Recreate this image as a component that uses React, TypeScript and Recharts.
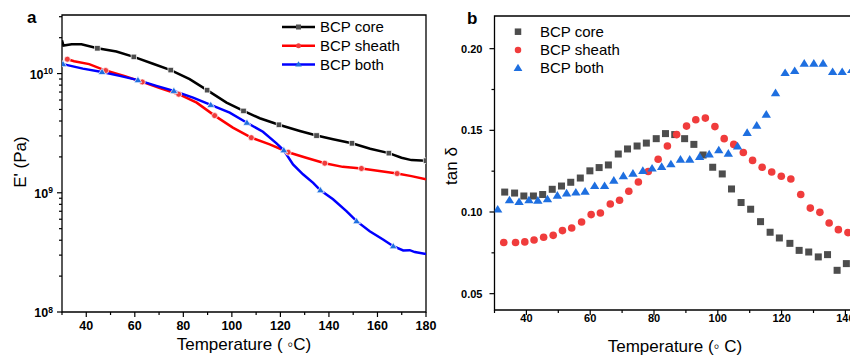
import React from 'react';
import { ComposedChart, Line, Scatter, XAxis, YAxis, ReferenceArea } from 'recharts';

const seriesNames = ['BCP core', 'BCP sheath', 'BCP both'];

// (a) storage modulus E' (Pa) against temperature (°C)
const coreTempA = [30, 30.6, 34, 38, 44.6, 52.4, 59.6, 67.5, 74.8, 82.6, 89.8, 97.8, 104.8, 111.5, 119.4, 128, 134.9, 141.7, 149.5, 157, 164.7, 169.9, 174, 180];
const coreModA = [1.9e10, 1.72e10, 1.76e10, 1.76e10, 1.63e10, 1.53e10, 1.38e10, 1.21e10, 1.07e10, 8.98e9, 7.26e9, 5.71e9, 4.86e9, 4.22e9, 3.72e9, 3.3e9, 3.02e9, 2.81e9, 2.6e9, 2.34e9, 2.15e9, 1.97e9, 1.88e9, 1.86e9];
const coreMarksA = [4, 6, 8, 10, 12, 14, 16, 18, 20, 23];

const sheathTempA = [32.2, 35, 41.2, 48, 55.6, 63.1, 70.6, 78.1, 85.5, 92.9, 100.4, 108, 115.6, 123.2, 130.6, 138.3, 145.7, 153.4, 160.8, 168.1, 174, 180];
const sheathModA = [1.32e10, 1.27e10, 1.2e10, 1.06e10, 9.57e9, 8.51e9, 7.53e9, 6.71e9, 5.7e9, 4.44e9, 3.52e9, 2.9e9, 2.55e9, 2.19e9, 1.97e9, 1.77e9, 1.65e9, 1.6e9, 1.52e9, 1.45e9, 1.38e9, 1.3e9];
const sheathMarksA = [0, 3, 5, 7, 9, 11, 13, 15, 17, 19];

const bothTempA = [30.4, 38.6, 46.5, 53.8, 61.3, 68.9, 76.1, 84, 91.3, 99.1, 106.2, 112.8, 118.4, 121.4, 125.2, 129.3, 133.5, 136.5, 141.7, 147.2, 151.4, 156.8, 162.3, 166.5, 170.6, 173.3, 175.4, 180];
const bothModA = [1.2e10, 1.1e10, 1.03e10, 9.57e9, 8.81e9, 7.89e9, 7.16e9, 6.28e9, 5.46e9, 4.7e9, 3.87e9, 3.25e9, 2.6e9, 2.27e9, 1.73e9, 1.43e9, 1.21e9, 1.05e9, 8.81e8, 7.02e8, 5.78e8, 4.76e8, 4.06e8, 3.56e8, 3.28e8, 3.3e8, 3.18e8, 3.07e8];
const bothMarksA = [0, 2, 4, 6, 8, 10, 13, 17, 20, 23];

// (b) tan delta against temperature (°C)
const coreTempB = [33.2, 36.3, 39.2, 42.2, 45.1, 48.1, 51, 53.9, 56.9, 59.9, 62.8, 65.7, 68.8, 71.7, 74.7, 77.6, 80.7, 83.6, 86.5, 89.6, 92.5, 95.4, 98.4, 101.4, 104.3, 107.3, 110.3, 113.4, 116.4, 119.3, 122.6, 125.5, 128.5, 131.5, 134.4, 137.4, 140.3];
const coreTanB = [0.1122, 0.1116, 0.1098, 0.1098, 0.1107, 0.1139, 0.1159, 0.1182, 0.1208, 0.1252, 0.1272, 0.1288, 0.1355, 0.1386, 0.1404, 0.1422, 0.1449, 0.148, 0.1474, 0.1449, 0.1414, 0.1349, 0.1274, 0.1233, 0.1141, 0.1058, 0.1017, 0.0941, 0.0876, 0.0841, 0.0808, 0.0765, 0.0755, 0.0725, 0.0739, 0.0643, 0.0684];

const sheathTempB = [32.9, 36.6, 39.5, 42.4, 45.4, 48.4, 51.3, 54.2, 57.3, 60.3, 63.2, 66.3, 69.2, 72.1, 75.1, 78.2, 81.3, 84.2, 87.1, 90.2, 93.1, 96.1, 99.1, 102, 105, 108, 110.9, 113.9, 116.9, 119.9, 122.9, 126, 129, 132, 134.9, 137.8, 140.8];
const sheathTanB = [0.0813, 0.0813, 0.0817, 0.0829, 0.0845, 0.0857, 0.0886, 0.0902, 0.0939, 0.0984, 0.0994, 0.1049, 0.1072, 0.1127, 0.1184, 0.1248, 0.1323, 0.1404, 0.1474, 0.1526, 0.1565, 0.1575, 0.1523, 0.1449, 0.1414, 0.1364, 0.1316, 0.1274, 0.1245, 0.1219, 0.1202, 0.1107, 0.1024, 0.0998, 0.0933, 0.0892, 0.0874];

const bothTempB = [31, 34.7, 37.7, 40.8, 43.6, 46.6, 49.7, 52.6, 55.5, 58.4, 61.4, 64.5, 67.4, 70.4, 73.4, 76.5, 79.4, 82.4, 85.3, 88.3, 91.2, 94.3, 97.3, 100.3, 103.3, 106.2, 109.2, 112.2, 115.2, 118.1, 121.1, 124.1, 127.1, 130.1, 133, 136, 139, 142];
const bothTanB = [0.1015, 0.1072, 0.1061, 0.1072, 0.107, 0.1078, 0.11, 0.1114, 0.1119, 0.1125, 0.1159, 0.1159, 0.1192, 0.122, 0.1235, 0.1252, 0.1266, 0.1276, 0.1292, 0.1321, 0.1321, 0.1337, 0.1353, 0.1378, 0.1357, 0.1402, 0.1484, 0.1529, 0.1596, 0.1728, 0.1851, 0.1863, 0.1908, 0.1908, 0.1908, 0.1857, 0.1857, 0.187];

// axis ticks
const tempTicks = [30, 40, 50, 60, 70, 80, 90, 100, 110, 120, 130, 140, 150, 160, 170, 180];
const decades = [1e8, 1e9, 1e10];
const modTicks = decades.flatMap(d => [1, 2, 3, 4, 5, 6, 7, 8, 9].map(m => m * d)).filter(v => v <= 3.1e10);
const tanTicks = [0.05, 0.075, 0.1, 0.125, 0.15, 0.175, 0.2];

const FONT = '"Liberation Sans", Arial, Helvetica, sans-serif';
const LINE_COLORS = ['#000000', '#ff0000', '#0000ff'];
const MARK_COLORS = ['#4d4d4d', '#f03c3c', '#1e6fe0'];

const zip = (ts: number[], vs: number[]) => ts.map((t, i) => ({ t, v: vs[i] }));

// marker shapes, shared by plot and legends
const Marker = ({ kind, cx, cy, s, gap = 0 }: { kind: number; cx: number; cy: number; s: number; gap?: number }) => {
  const stroke = gap ? '#fff' : 'none';
  if (kind === 0)
    return <rect x={cx - s / 2} y={cy - s / 2} width={s} height={s} fill={MARK_COLORS[0]} stroke={stroke} strokeWidth={gap} />;
  if (kind === 1) return <circle cx={cx} cy={cy} r={s / 2} fill={MARK_COLORS[1]} stroke={stroke} strokeWidth={gap} />;
  const h = s * 0.9;
  return (
    <polygon
      points={`${cx},${cy - h * 0.6} ${cx + s * 0.55},${cy + h * 0.4} ${cx - s * 0.55},${cy + h * 0.4}`}
      fill={MARK_COLORS[2]}
      stroke={stroke}
      strokeWidth={gap}
    />
  );
};

// only every few points of each E' curve carries a symbol
const markedDot = (kind: number, marks: number[], s: number) => (p: any) =>
  marks.includes(p.index) ? (
    <g key={`m-${kind}-${p.index}`}>
      <Marker kind={kind} cx={p.cx} cy={p.cy} s={s} gap={0.7} />
    </g>
  ) : (
    <g key={`m-${kind}-${p.index}`} />
  );

const makeXTick = (fontSize: number, labelDy: number) => (props: any) => {
  const { x, y, payload } = props;
  const major = payload.value % 20 === 0;
  return (
    <g>
      <line x1={x} x2={x} y1={y} y2={y + (major ? 5 : 3)} stroke="#000" strokeWidth={1.2} />
      {major && (
        <text x={x} y={y + labelDy} textAnchor="middle" fontSize={fontSize} fontWeight={700} fontFamily={FONT} fill="#000">
          {payload.value}
        </text>
      )}
    </g>
  );
};

const LogYTick = (props: any) => {
  const { x, y, payload } = props;
  const exp = Math.log10(payload.value);
  const major = Math.abs(exp - Math.round(exp)) < 1e-6;
  return (
    <g>
      <line x1={x} x2={x - (major ? 5 : 3)} y1={y} y2={y} stroke="#000" strokeWidth={1.2} />
      {major && (
        <text x={x - 9} y={y + 5} textAnchor="end" fontSize={12.5} fontWeight={700} fontFamily={FONT} fill="#000">
          10
          <tspan dy={-4.5} fontSize={8.5}>
            {Math.round(exp)}
          </tspan>
        </text>
      )}
    </g>
  );
};

const TanYTick = (props: any) => {
  const { x, y, payload } = props;
  const v = payload.value;
  const major = Math.abs(v * 20 - Math.round(v * 20)) < 1e-6;
  return (
    <g>
      <line x1={x} x2={x - (major ? 5 : 3)} y1={y} y2={y} stroke="#000" strokeWidth={1.2} />
      {major && (
        <text x={x - 12} y={y + 4} textAnchor="end" fontSize={11} fontWeight={700} fontFamily={FONT} fill="#000">
          {v.toFixed(2)}
        </text>
      )}
    </g>
  );
};

const XTickA = makeXTick(12.5, 17.5);
const XTickB = makeXTick(11, 12);

const ModulusChart = () => (
  <ComposedChart width={450} height={356} margin={{ top: 15, right: 24, bottom: 0, left: 0 }}>
    <XAxis type="number" dataKey="t" domain={[30, 180]} ticks={tempTicks} interval={0} tickSize={0} tickMargin={0}
      tickLine={false} axisLine={false} height={44} tick={XTickA} allowDataOverflow />
    <YAxis type="number" scale="log" domain={[1e8, 3.1e10]} ticks={modTicks} interval={0} tickSize={0} tickMargin={0}
      tickLine={false} axisLine={false} width={62} tick={LogYTick} allowDataOverflow />
    <ReferenceArea x1={30} x2={180} y1={1e8} y2={3.1e10} fill="none" fillOpacity={0} stroke="#000" strokeWidth={1.3} />
    <Line data={zip(coreTempA, coreModA)} dataKey="v" stroke={LINE_COLORS[0]} strokeWidth={2.5}
      dot={markedDot(0, coreMarksA, 5.5)} activeDot={false} isAnimationActive={false} />
    <Line data={zip(sheathTempA, sheathModA)} dataKey="v" stroke={LINE_COLORS[1]} strokeWidth={2.5}
      dot={markedDot(1, sheathMarksA, 6)} activeDot={false} isAnimationActive={false} />
    <Line data={zip(bothTempA, bothModA)} dataKey="v" stroke={LINE_COLORS[2]} strokeWidth={2.5}
      dot={markedDot(2, bothMarksA, 7)} activeDot={false} isAnimationActive={false} />
  </ComposedChart>
);

// plot runs past the right edge of the picture, as in the original figure
const TanDeltaChart = () => (
  <ComposedChart width={560} height={356} margin={{ top: 16, right: 17, bottom: 0, left: 0 }}>
    <XAxis type="number" dataKey="t" domain={[30, 180]} ticks={tempTicks} interval={0} tickSize={0} tickMargin={0}
      tickLine={false} axisLine={false} height={46} tick={XTickB} allowDataOverflow />
    <YAxis type="number" domain={[0.04, 0.22]} ticks={tanTicks} interval={0} tickSize={0} tickMargin={0}
      tickLine={false} axisLine={false} width={64.5} tick={TanYTick} allowDataOverflow />
    <ReferenceArea x1={30} x2={180} y1={0.04} y2={0.22} fill="none" fillOpacity={0} stroke="#000" strokeWidth={1.3} />
    <Scatter data={zip(coreTempB, coreTanB)} dataKey="v" isAnimationActive={false}
      shape={(p: any) => <Marker kind={0} cx={p.cx} cy={p.cy} s={7} />} />
    <Scatter data={zip(sheathTempB, sheathTanB)} dataKey="v" isAnimationActive={false}
      shape={(p: any) => <Marker kind={1} cx={p.cx} cy={p.cy} s={7.6} />} />
    <Scatter data={zip(bothTempB, bothTanB)} dataKey="v" isAnimationActive={false}
      shape={(p: any) => <Marker kind={2} cx={p.cx} cy={p.cy} s={8.5} />} />
  </ComposedChart>
);

// titles, panel letters and legends drawn on top
const Overlay = () => (
  <svg width={850} height={356} style={{ position: 'absolute', left: 0, top: 0, pointerEvents: 'none' }}>
    <g fontFamily={FONT} fill="#000">
      <text x={27} y={23} fontSize={17} fontWeight={700}>a</text>
      <text x={467} y={24} fontSize={17} fontWeight={700}>b</text>
      <text x={244} y={350} fontSize={17} textAnchor="middle">Temperature ( ◦C)</text>
      <text x={675} y={352} fontSize={17} textAnchor="middle">Temperature (◦ C)</text>
      <text transform="translate(26,162) rotate(-90)" fontSize={17} textAnchor="middle">E' (Pa)</text>
      <text transform="translate(457,166) rotate(-90)" fontSize={17} textAnchor="middle">tan δ</text>
      {seriesNames.map((name, i) => {
        const y = 27 + i * 18.7;
        return (
          <g key={`la-${i}`}>
            <line x1={282} x2={315} y1={y} y2={y} stroke={LINE_COLORS[i]} strokeWidth={2.5} />
            <Marker kind={i} cx={298.5} cy={y} s={i === 2 ? 6 : 5} />
            <text x={320} y={y + 5.3} fontSize={15}>{name}</text>
          </g>
        );
      })}
      {seriesNames.map((name, i) => {
        const y = 31.7 + i * 18.2;
        return (
          <g key={`lb-${i}`}>
            <Marker kind={i} cx={518} cy={y} s={i === 2 ? 8 : 6.5} />
            <text x={540} y={y + 5.3} fontSize={15}>{name}</text>
          </g>
        );
      })}
    </g>
  </svg>
);

export default function App() {
  return (
    <div style={{ position: 'absolute', left: 0, top: 0, width: 850, height: 356, overflow: 'hidden', background: '#fff' }}>
      <div style={{ position: 'absolute', left: 0, top: 0 }}>
        <ModulusChart />
      </div>
      <div style={{ position: 'absolute', left: 430, top: 0 }}>
        <TanDeltaChart />
      </div>
      <Overlay />
    </div>
  );
}
